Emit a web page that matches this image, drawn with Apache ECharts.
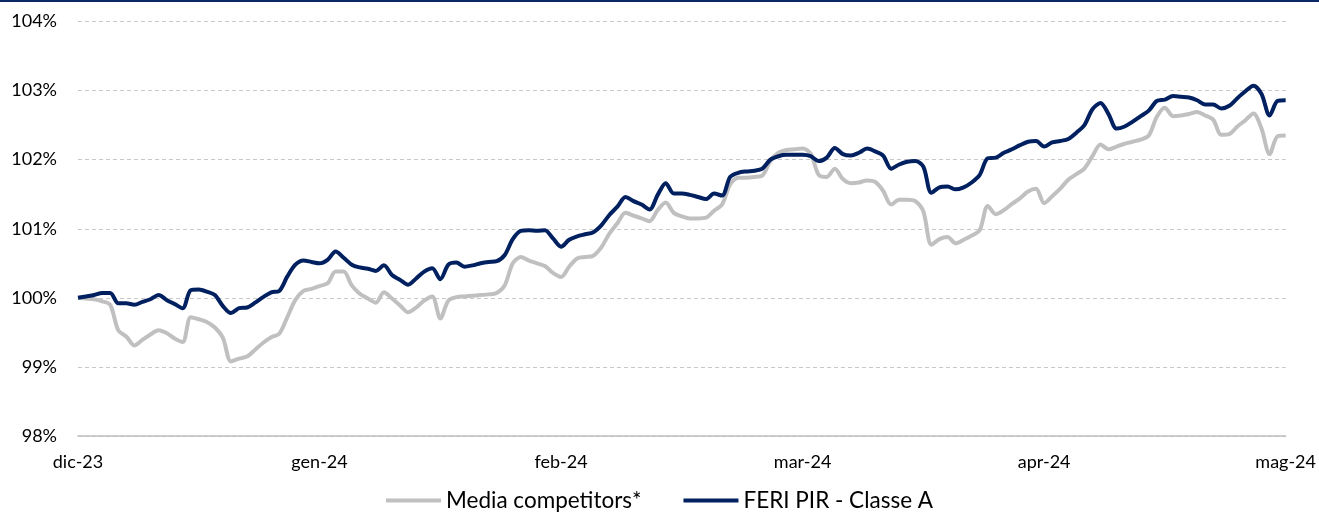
<!DOCTYPE html>
<html>
<head>
<meta charset="utf-8">
<script src="https://cdn.jsdelivr.net/npm/echarts@6/dist/echarts.min.js"></script>
<style>
html,body{margin:0;padding:0;background:#fff;}
#chart{width:1319px;height:514px;}
</style>
</head>
<body>
<div id="chart"></div>
<script>
// Month tick labels shown every 30 points
var tickLabels = ['dic-23', 'gen-24', 'feb-24', 'mar-24', 'apr-24', 'mag-24'];
var tickEvery = 30;

var seriesNames = ['Media competitors*', 'FERI PIR - Classe A'];

var mediaCompetitors = [
  100.00, 99.99, 99.98, 99.95, 99.90, 99.53, 99.44, 99.31, 99.39, 99.47,
  99.53, 99.49, 99.41, 99.36, 99.72, 99.69, 99.65, 99.57, 99.42, 99.08,
  99.12, 99.15, 99.25, 99.35, 99.43, 99.48, 99.72, 99.97, 100.10, 100.13,
  100.17, 100.21, 100.38, 100.38, 100.18, 100.06, 99.99, 99.93, 100.08, 99.99,
  99.89, 99.79, 99.86, 99.96, 100.02, 99.70, 99.96, 100.01, 100.02, 100.03,
  100.04, 100.05, 100.07, 100.18, 100.50, 100.59, 100.54, 100.50, 100.46, 100.36,
  100.30, 100.45, 100.57, 100.59, 100.61, 100.73, 100.93, 101.08, 101.23, 101.19,
  101.15, 101.11, 101.27, 101.38, 101.23, 101.18, 101.15, 101.15, 101.16, 101.26,
  101.35, 101.64, 101.74, 101.74, 101.75, 101.77, 101.98, 102.10, 102.14, 102.15,
  102.16, 102.09, 101.78, 101.75, 101.87, 101.72, 101.66, 101.67, 101.70, 101.68,
  101.55, 101.35, 101.42, 101.42, 101.40, 101.25, 100.77, 100.85, 100.88, 100.79,
  100.84, 100.90, 100.98, 101.33, 101.21, 101.27, 101.36, 101.44, 101.54, 101.58,
  101.37, 101.47, 101.58, 101.71, 101.79, 101.87, 102.05, 102.22, 102.15, 102.19,
  102.23, 102.26, 102.29, 102.35, 102.62, 102.75, 102.63, 102.64, 102.66, 102.69,
  102.64, 102.58, 102.36, 102.37, 102.48, 102.57, 102.67, 102.45, 102.08, 102.34,
  102.35
];

var feriPir = [
  100.00, 100.02, 100.04, 100.07, 100.07, 99.92, 99.92, 99.90, 99.94, 99.98,
  100.04, 99.97, 99.91, 99.85, 100.11, 100.12, 100.09, 100.04, 99.88, 99.78,
  99.85, 99.86, 99.93, 100.01, 100.08, 100.10, 100.31, 100.48, 100.54, 100.52,
  100.50, 100.55, 100.67, 100.58, 100.48, 100.44, 100.42, 100.39, 100.47, 100.33,
  100.26, 100.19, 100.28, 100.38, 100.43, 100.27, 100.48, 100.51, 100.45, 100.47,
  100.50, 100.52, 100.53, 100.62, 100.85, 100.97, 100.98, 100.97, 100.98, 100.86,
  100.74, 100.84, 100.89, 100.92, 100.95, 101.05, 101.20, 101.32, 101.46, 101.40,
  101.35, 101.28, 101.49, 101.66, 101.51, 101.51, 101.49, 101.46, 101.43, 101.51,
  101.48, 101.75, 101.81, 101.83, 101.84, 101.87, 102.00, 102.05, 102.07, 102.07,
  102.07, 102.05, 101.98, 102.03, 102.17, 102.08, 102.06, 102.10, 102.16, 102.12,
  102.06, 101.87, 101.93, 101.97, 101.98, 101.90, 101.52, 101.60, 101.61, 101.57,
  101.60, 101.67, 101.78, 102.02, 102.03, 102.10, 102.15, 102.21, 102.26, 102.27,
  102.19, 102.25, 102.27, 102.30, 102.39, 102.50, 102.73, 102.82, 102.66, 102.45,
  102.48, 102.55, 102.63, 102.71, 102.85, 102.87, 102.92, 102.91, 102.90, 102.86,
  102.80, 102.80, 102.74, 102.78, 102.89, 102.99, 103.07, 102.95, 102.64, 102.85,
  102.86
];

// category list built from tick labels (blank between month ticks)
var categories = mediaCompetitors.map(function (v, i) {
  return (i % tickEvery === 0) ? tickLabels[i / tickEvery] : '';
});

var FONT = 'Lato';
var chart = echarts.init(document.getElementById('chart'), null, {renderer: 'canvas'});
chart.setOption({
  backgroundColor: '#ffffff',
  animation: false,
  graphic: [{
    type: 'rect',
    left: 0, top: 0,
    shape: {width: 1319, height: 2},
    style: {fill: '#0b2a63'}
  }],
  grid: {left: 78, right: 30, top: 21.5, bottom: 78, containLabel: false},
  legend: {
    top: 489,
    left: 'center',
    icon: 'rect',
    itemWidth: 55,
    itemHeight: 4,
    itemGap: 42,
    padding: 0,
    textStyle: {fontFamily: FONT, fontSize: 22.5, color: '#000'},
    data: seriesNames
  },
  xAxis: {
    type: 'category',
    data: categories,
    boundaryGap: false,
    axisLine: {lineStyle: {color: '#bfbfbf', width: 1.5}},
    axisTick: {show: false},
    axisLabel: {
      interval: tickEvery - 1,
      margin: 17,
      fontFamily: FONT, fontSize: 18, color: '#000'
    },
    splitLine: {show: false}
  },
  yAxis: {
    type: 'value',
    min: 98, max: 104, interval: 1,
    axisLine: {show: false},
    axisTick: {show: false},
    axisLabel: {
      formatter: '{value}%',
      margin: 21,
      fontFamily: FONT, fontSize: 18, color: '#000'
    },
    splitLine: {lineStyle: {color: '#c8c8c8', type: [4, 3], width: 1}}
  },
  series: [
    {
      name: seriesNames[0], type: 'line', data: mediaCompetitors,
      smooth: 0.3, showSymbol: false, symbol: 'none',
      lineStyle: {color: '#c0c0c0', width: 4},
      itemStyle: {color: '#c0c0c0'},
      z: 2
    },
    {
      name: seriesNames[1], type: 'line', data: feriPir,
      smooth: 0.3, showSymbol: false, symbol: 'none',
      lineStyle: {color: '#002060', width: 4},
      itemStyle: {color: '#002060'},
      z: 3
    }
  ]
});
</script>
</body>
</html>
